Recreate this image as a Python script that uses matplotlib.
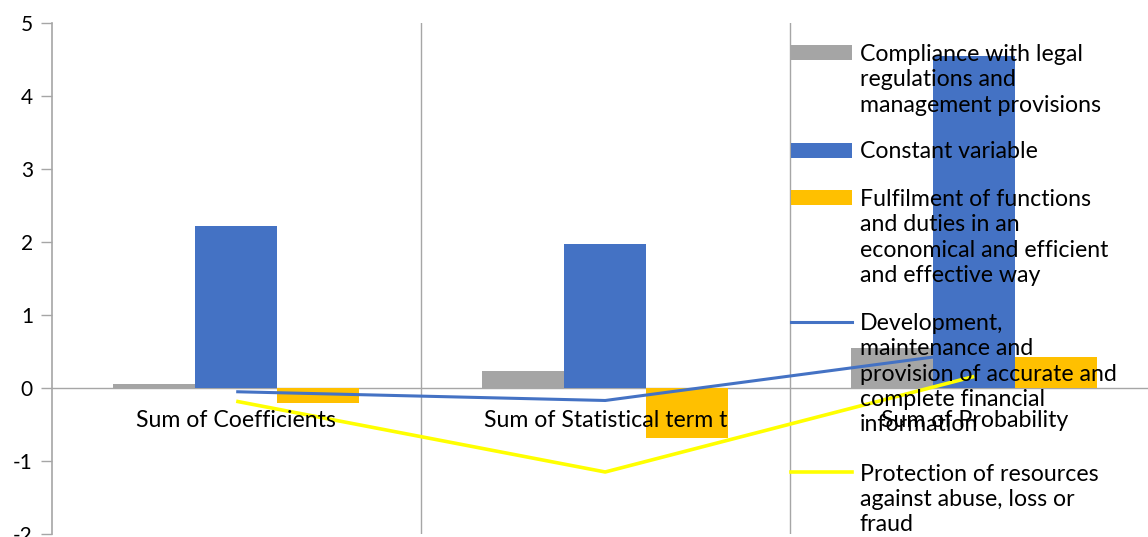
import numpy as np
import matplotlib
matplotlib.use("Agg")
import matplotlib.pyplot as plt
import matplotlib.transforms as mtransforms
from matplotlib.patches import Rectangle
from matplotlib.lines import Line2D

plt.rcParams['font.family'] = ['Lato', 'DejaVu Sans']

# data
categories = ["Sum of Coefficients", "Sum of Statistical term t", "Sum of Probability"]
compliance = [0.06, 0.24, 0.55]
constant = [2.22, 1.97, 4.55]
fulfilment = [-0.21, -0.68, 0.43]
development = [-0.05, -0.17, 0.50]
protection = [-0.18, -1.15, 0.16]

series_names = [
    "Compliance with legal\nregulations and\nmanagement provisions",
    "Constant variable",
    "Fulfilment of functions\nand duties in an\neconomical and efficient\nand effective way",
    "Development,\nmaintenance and\nprovision of accurate and\ncomplete financial\ninformation",
    "Protection of resources\nagainst abuse, loss or\nfraud",
]
yticks = [-2, -1, 0, 1, 2, 3, 4, 5]

GRAY = "#A5A5A5"
BLUE = "#4472C4"
ORANGE = "#FFC000"
YELLOW = "#FFFF00"
AXIS = "#A6A6A6"

W, H = 1148, 537
fig = plt.figure(figsize=(W / 100, H / 100), dpi=100)
ax = fig.add_axes([51.7 / W, 3 / H, 1107 / W, 510.7 / H])

x = np.arange(len(categories))
bw = 1 / 4.5
ax.axhline(0, color=AXIS, lw=1, zorder=1)
for g in x[:-1] + 0.5:
    ax.axvline(g, color=AXIS, lw=1, zorder=1)
ax.bar(x - bw, compliance, bw, color=GRAY, zorder=2)
ax.bar(x, constant, bw, color=BLUE, zorder=2)
ax.bar(x + bw, fulfilment, bw, color=ORANGE, zorder=2)
ax.plot(x, development, color=BLUE, lw=2.2, zorder=3, solid_capstyle='butt')
ax.plot(x, protection, color=YELLOW, lw=2.6, zorder=3, solid_capstyle='butt')

ax.set_xlim(-0.5, 2.5)
ax.set_ylim(-2, 5)
ax.set_yticks(yticks)
ax.set_yticklabels([str(v) for v in yticks])
ax.set_xticks([])
for s in ["top", "right", "bottom"]:
    ax.spines[s].set_visible(False)
ax.spines["left"].set_color(AXIS)
ax.spines["left"].set_linewidth(1.2)
ax.tick_params(axis='y', length=8, width=1, color=AXIS, pad=5.5, labelsize=15)
ax.patch.set_alpha(0)

# category labels sit under the zero line
lab_tr = mtransforms.offset_copy(ax.transData, fig=fig, x=0, y=-27.9, units='points')
for i, c in enumerate(categories):
    ax.text(x[i], 0, c, transform=lab_tr, ha='center', va='baseline', fontsize=16.7, zorder=4)

# legend, handles aligned to first text line
leg_y = [52.7, 150, 197.7, 321.7, 472.3]
line_step = 25.2
for i, (name, yy) in enumerate(zip(series_names, leg_y)):
    yf = 1 - yy / H
    if i < 3:
        col = [GRAY, BLUE, ORANGE][i]
        fig.add_artist(Rectangle((791 / W, yf - 7.5 / H), 61 / W, 15 / H,
                                 transform=fig.transFigure, color=col, lw=0))
    else:
        col = [BLUE, YELLOW][i - 3]
        fig.add_artist(Line2D([791 / W, 852 / W], [yf, yf], transform=fig.transFigure,
                              color=col, lw=2.6 if i == 4 else 2.2))
    for k, part in enumerate(name.split("\n")):
        fig.text(860 / W, 1 - (yy + k * line_step) / H, part, ha='left',
                 va='center_baseline', fontsize=16.7, zorder=5)

fig.savefig("out.png", dpi=100)
